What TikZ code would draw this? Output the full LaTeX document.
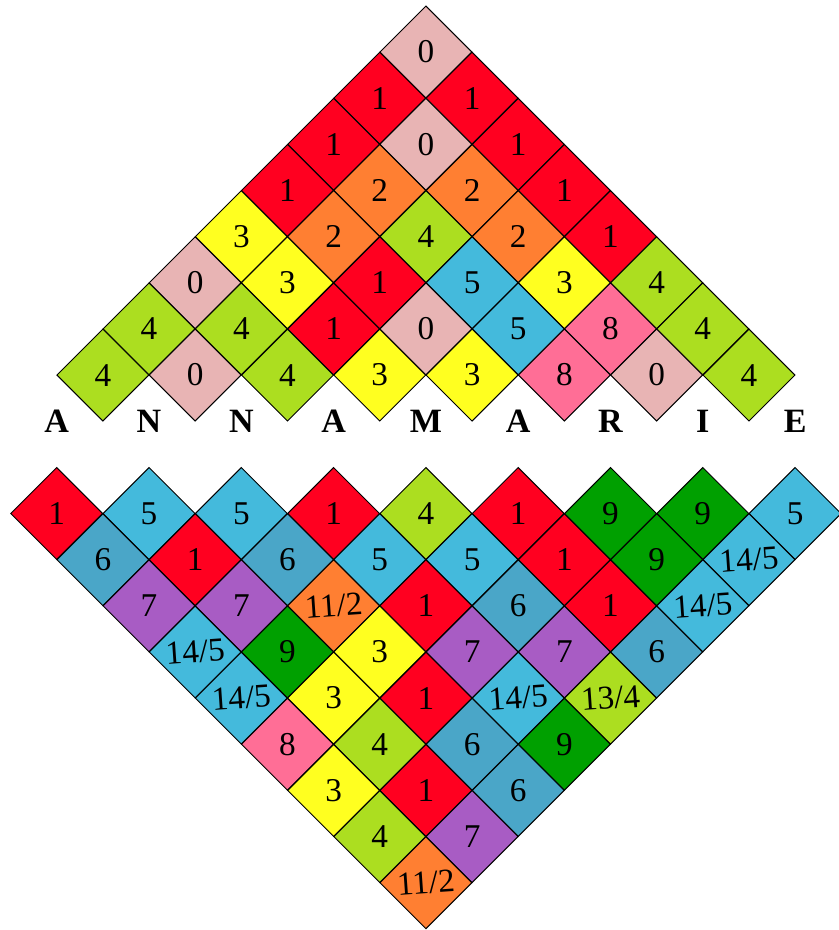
\documentclass[tikz,border=0pt]{standalone}
\usepackage{fontspec}
\setmainfont{Liberation Serif}
\usepackage{graphicx}
\usetikzlibrary{shapes.geometric}

\definecolor{pinkzero}{RGB}{232,180,180}
\definecolor{redone}{RGB}{255,0,32}
\definecolor{orangetwo}{RGB}{255,127,50}
\definecolor{yellowthree}{RGB}{255,255,32}
\definecolor{greenfour}{RGB}{172,222,32}
\definecolor{bluefive}{RGB}{68,186,220}
\definecolor{steelsix}{RGB}{74,166,200}
\definecolor{purpleseven}{RGB}{168,92,196}
\definecolor{pinkeight}{RGB}{255,110,150}
\definecolor{greennine}{RGB}{0,160,0}

\begin{document}
\begin{tikzpicture}[
  cell/.style={diamond, draw=black, line width=0.6pt, aspect=1,
    minimum width=2cm, minimum height=2cm, inner sep=0pt,
    font=\fontsize{20.5}{21}\selectfont},
  letter/.style={inner sep=0pt, font=\fontsize{21}{22}\selectfont\bfseries}]
\useasboundingbox (-1.229,0.127) rectangle (16.93,-20.025);

% upper triangle: column/row/colour/value
\foreach \c/\r/\col/\v in {
  8/1/pinkzero/0,
  7/2/redone/1, 9/2/redone/1,
  6/3/redone/1, 8/3/pinkzero/0, 10/3/redone/1,
  5/4/redone/1, 7/4/orangetwo/2, 9/4/orangetwo/2, 11/4/redone/1,
  4/5/yellowthree/3, 6/5/orangetwo/2, 8/5/greenfour/4, 10/5/orangetwo/2, 12/5/redone/1,
  3/6/pinkzero/0, 5/6/yellowthree/3, 7/6/redone/1, 9/6/bluefive/5, 11/6/yellowthree/3, 13/6/greenfour/4,
  2/7/greenfour/4, 4/7/greenfour/4, 6/7/redone/1, 8/7/pinkzero/0, 10/7/bluefive/5, 12/7/pinkeight/8, 14/7/greenfour/4,
  1/8/greenfour/4, 3/8/pinkzero/0, 5/8/greenfour/4, 7/8/yellowthree/3, 9/8/yellowthree/3, 11/8/pinkeight/8, 13/8/pinkzero/0, 15/8/greenfour/4}
  \node[cell, fill=\col] (t-\c-\r) at (\c,-\r) {\v};

\foreach \l [count=\i from 0] in {A,N,N,A,M,A,R,I,E}
  \node[letter] (name-\i) at (2*\i,-9) {\l};

% lower triangle
\foreach \c/\r/\col/\v in {
  0/11/redone/1, 2/11/bluefive/5, 4/11/bluefive/5, 6/11/redone/1, 8/11/greenfour/4, 10/11/redone/1, 12/11/greennine/9, 14/11/greennine/9, 16/11/bluefive/5,
  1/12/steelsix/6, 3/12/redone/1, 5/12/steelsix/6, 7/12/bluefive/5, 9/12/bluefive/5, 11/12/redone/1, 13/12/greennine/9, 15/12/bluefive/{\rotatebox{4}{14/5}},
  2/13/purpleseven/7, 4/13/purpleseven/7, 6/13/orangetwo/{\rotatebox{4}{11/2}}, 8/13/redone/1, 10/13/steelsix/6, 12/13/redone/1, 14/13/bluefive/{\rotatebox{4}{14/5}},
  3/14/bluefive/{\rotatebox{4}{14/5}}, 5/14/greennine/9, 7/14/yellowthree/3, 9/14/purpleseven/7, 11/14/purpleseven/7, 13/14/steelsix/6,
  4/15/bluefive/{\rotatebox{4}{14/5}}, 6/15/yellowthree/3, 8/15/redone/1, 10/15/bluefive/{\rotatebox{4}{14/5}}, 12/15/greenfour/{\rotatebox{4}{13/4}},
  5/16/pinkeight/8, 7/16/greenfour/4, 9/16/steelsix/6, 11/16/greennine/9,
  6/17/yellowthree/3, 8/17/redone/1, 10/17/steelsix/6,
  7/18/greenfour/4, 9/18/purpleseven/7,
  8/19/orangetwo/{\rotatebox{4}{11/2}}}
  \node[cell, fill=\col] (b-\c-\r) at (\c,-\r) {\v};
\end{tikzpicture}
\end{document}
